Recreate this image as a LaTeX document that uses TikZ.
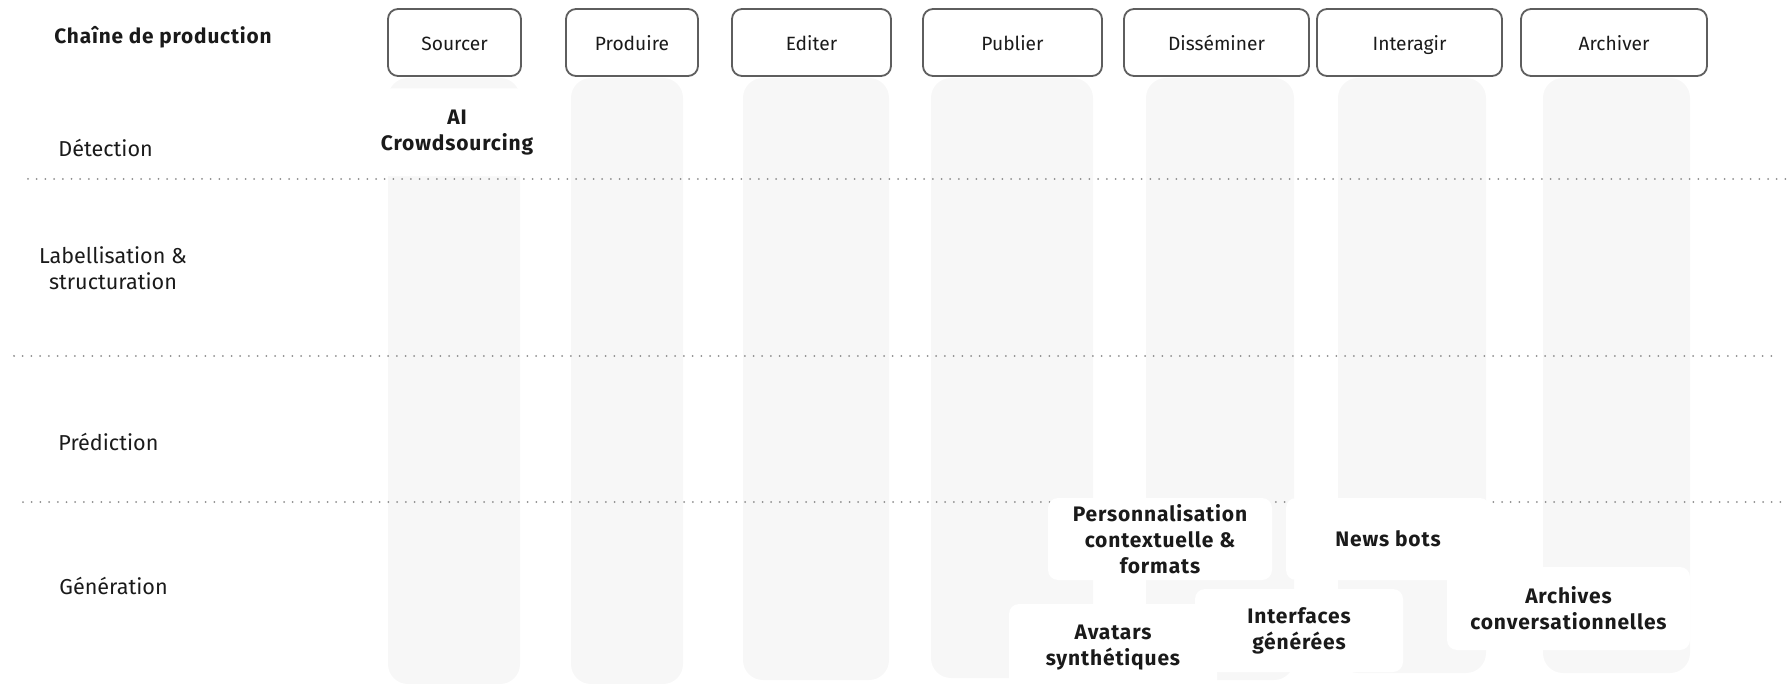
\documentclass[tikz,border=0pt]{standalone}
\usepackage{fontspec}
\setmainfont{Fira Sans}
\definecolor{lanefill}{HTML}{F7F7F7}
\definecolor{stageline}{HTML}{5E5E5E}
\definecolor{sepdots}{HTML}{8C8C8C}
\definecolor{ink}{HTML}{1A1A1A}
\begin{document}
\begin{tikzpicture}[
    x=0.5pt, y=-0.5pt,
    stage/.style={rectangle, draw=stageline, line width=0.9pt, rounded corners=5pt,
                  fill=white, minimum height=33.5pt, align=center, inner sep=0pt,
                  text height=9pt, text depth=1pt,
                  text=ink, font=\fontsize{9.6}{12}\selectfont},
    usecase/.style={rectangle, fill=white, rounded corners=5pt, align=center,
                    inner sep=0pt, text=ink,
                    font=\fontsize{10.5}{13}\selectfont\bfseries\addfontfeatures{LetterSpace=4}},
    lane/.style={fill=lanefill, rounded corners=10pt},
    sep/.style={draw=sepdots, line width=1pt, line cap=round, dash pattern=on 0pt off 4.35pt},
    rowlbl/.style={align=center, inner sep=0pt, text=ink, font=\fontsize{10.8}{12.8}\selectfont},
  ]
  \useasboundingbox (0,0) rectangle (1789,684);

  % === lanes ===
  \fill[lane] (388,78) rectangle (520,684);
  \fill[lane] (571,78) rectangle (683,684);
  \fill[lane] (743,78) rectangle (889,680);
  \fill[lane] (931,78) rectangle (1093,678);
  \fill[lane] (1146,78) rectangle (1294,680);
  \fill[lane] (1338,78) rectangle (1486,673);
  \fill[lane] (1543,78) rectangle (1690,673);

  % === separators ===
  \draw[sep] (28,179) -- (1789,179);
  \draw[sep] (14,356) -- (1778,356);
  \draw[sep] (23,502) -- (1789,502);

  % === use cases ===
  \node[usecase, minimum width=70pt, minimum height=44pt] (aicrowd) at (457,132.5) {AI\\Crowdsourcing};
  \node[usecase, minimum width=112pt, minimum height=41pt] (perso) at (1160,539) {Personnalisation\\contextuelle \&\\formats};
  \node[usecase, minimum width=102pt, minimum height=41pt] (newsbots) at (1388,539) {News bots};
  \node[usecase, minimum width=121.5pt, minimum height=41.5pt] (archconv) at (1568.5,608.5) {Archives\\conversationnelles};
  \node[usecase, minimum width=104pt, minimum height=44pt] (avatars) at (1113,648) {Avatars\\synthétiques};
  \node[usecase, minimum width=104pt, minimum height=41.5pt] (interf) at (1299,630.5) {Interfaces\\générées};

  % === stages ===
  \node[stage, minimum width=66.5pt] (sourcer) at (454.5,42.5) {Sourcer};
  \node[stage, minimum width=66pt] (produire) at (632,42.5) {Produire};
  \node[stage, minimum width=79.5pt] (editer) at (811.5,42.5) {Editer};
  \node[stage, minimum width=89.5pt] (publier) at (1012.5,42.5) {Publier};
  \node[stage, minimum width=92.5pt] (dissem) at (1216.5,42.5) {Disséminer};
  \node[stage, minimum width=92.5pt] (interagir) at (1409.5,42.5) {Interagir};
  \node[stage, minimum width=93pt] (archiver) at (1614,42.5) {Archiver};

  % === rows ===
  \node[rowlbl, font=\fontsize{10.4}{12.5}\selectfont\bfseries\addfontfeatures{LetterSpace=4}] (chaine) at (163,37) {Chaîne de production};
  \node[rowlbl, anchor=west] (detect) at (58,148) {Détection};
  \node[rowlbl] (label) at (113,268) {Labellisation \&\\structuration};
  \node[rowlbl, anchor=west] (predict) at (58,442) {Prédiction};
  \node[rowlbl, anchor=west] (gener) at (59,586) {Génération};

\end{tikzpicture}
\end{document}
